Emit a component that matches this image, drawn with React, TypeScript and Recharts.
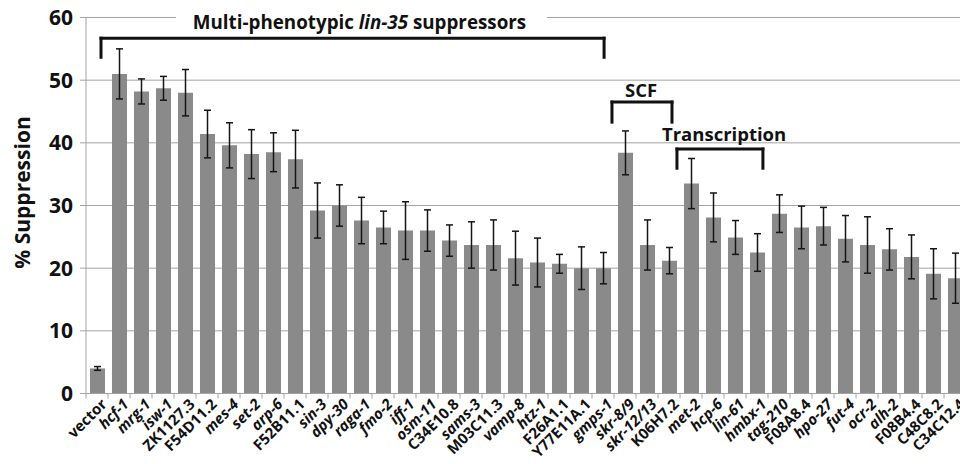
import React from 'react';
import {
  BarChart,
  Bar,
  XAxis,
  YAxis,
  CartesianGrid,
  ErrorBar,
  ReferenceLine,
  ReferenceDot,
} from 'recharts';

const categories = [
  'vector', 'hcf-1', 'mrg-1', 'isw-1', 'ZK1127.3', 'F54D11.2', 'mes-4', 'set-2', 'arp-6', 'F52B11.1',
  'sin-3', 'dpy-30', 'raga-1', 'fmo-2', 'iff-1', 'osm-11', 'C34E10.8', 'sams-3', 'M03C11.3', 'vamp-8',
  'htz-1', 'F26A1.1', 'Y77E11A.1', 'gmps-1', 'skr-8/9', 'skr-12/13', 'K06H7.2', 'met-2', 'hcp-6', 'lin-61',
  'hmbx-1', 'tag-210', 'F08A8.4', 'hpo-27', 'fut-4', 'ocr-2', 'alh-2', 'F08B4.4', 'C48C8.2', 'C34C12.4',
];

const suppression = [
  4.0, 51.0, 48.2, 48.7, 48.0, 41.4, 39.6, 38.2, 38.5, 37.4,
  29.2, 30.0, 27.6, 26.5, 26.0, 26.0, 24.4, 23.7, 23.7, 21.6,
  20.9, 20.7, 20.0, 20.0, 38.4, 23.7, 21.2, 33.5, 28.1, 24.9,
  22.5, 28.7, 26.5, 26.7, 24.7, 23.7, 23.0, 21.8, 19.1, 18.4,
];

const errors = [
  0.3, 4.0, 2.0, 1.9, 3.7, 3.8, 3.6, 3.9, 3.1, 4.6,
  4.4, 3.3, 3.7, 2.6, 4.6, 3.3, 2.5, 3.7, 4.0, 4.3,
  3.9, 1.5, 3.4, 2.5, 3.5, 4.0, 2.1, 4.0, 3.9, 2.7,
  3.0, 3.0, 3.4, 3.0, 3.7, 4.5, 3.3, 3.5, 4.0, 4.0,
];

const yTicks = [0, 10, 20, 30, 40, 50, 60];

// group annotations: x on a 0..39 position axis spanning the plot, y in % units
const groupBrackets = [
  { left: 0.665, right: 22.96, top: 56.7, bottom: 53.65 },
  { left: 23.31, right: 25.97, top: 46.5, bottom: 43.3 },
  { left: 26.19, right: 30.0, top: 39.0, bottom: 35.95 },
];
const groupLabels = [
  { x: 12.12, y: 59.3, size: 18.8, parts: [['Multi-phenotypic ', false], ['lin-35', true], [' suppressors', false]] },
  { x: 24.6, y: 48.6, size: 18.5, parts: [['SCF', false]] },
  { x: 28.28, y: 41.6, size: 18.5, parts: [['Transcription', false]] },
];
const titleGap = { from: 3.99, to: 20.43, y: 60 };

const data = categories.map((name, i) => ({ name, value: suppression[i], err: errors[i] }));

const FONT = "'Open Sans', 'DejaVu Sans', sans-serif";
const GRID = '#a3a3a3';

const isGene = (s: string) => /^[a-z]/.test(s) && s !== 'vector';

function XTick(props: any) {
  const { x, y, payload, width } = props;
  const band = width ? width / categories.length : 22;
  const label = String(payload.value);
  const tx = x + 7;
  const ty = y + 8;
  return (
    <g>
      <line x1={x - band / 2} x2={x - band / 2} y1={y} y2={y + 5} stroke={GRID} strokeWidth={1} />
      <text
        x={tx}
        y={ty}
        transform={`rotate(-45, ${tx}, ${ty})`}
        textAnchor="end"
        dy="0.35em"
        fontFamily={FONT}
        fontSize={15}
        fontWeight={700}
        fontStyle={isGene(label) ? 'italic' : 'normal'}
        fill="#111"
      >
        {label}
      </text>
    </g>
  );
}

function YLabel(props: any) {
  const vb = props.viewBox || { x: 0, y: 0, width: 86, height: 376 };
  const cx = vb.x + 22;
  const cy = vb.y + vb.height / 2 - 13;
  return (
    <text
      x={cx}
      y={cy}
      transform={`rotate(-90, ${cx}, ${cy})`}
      textAnchor="middle"
      dominantBaseline="central"
      fontFamily={FONT}
      fontSize={21}
      fontWeight={700}
      fill="#111"
    >
      % Suppression
    </text>
  );
}

function GroupLabel(props: any) {
  const { viewBox, parts, size } = props;
  const cx = viewBox.x + viewBox.width / 2;
  const cy = viewBox.y + viewBox.height / 2;
  return (
    <text
      x={cx}
      y={cy}
      textAnchor="middle"
      dominantBaseline="central"
      fontFamily={FONT}
      fontSize={size}
      fontWeight={700}
      fill="#111"
    >
      {parts.map((p: any, i: number) => (
        <tspan key={i} fontStyle={p[1] ? 'italic' : 'normal'}>
          {p[0]}
        </tspan>
      ))}
    </text>
  );
}

export default function App() {
  return (
    <div
      style={{
        position: 'absolute',
        left: 0,
        top: 0,
        width: 960,
        height: 464,
        overflow: 'hidden',
        background: '#fff',
      }}
    >
      <BarChart
        width={970}
        height={464}
        data={data}
        margin={{ top: 17.5, right: 4, bottom: 0, left: 0 }}
        barCategoryGap={0}
      >
        <CartesianGrid horizontal vertical={false} stroke={GRID} strokeWidth={1} />
        <XAxis
          dataKey="name"
          interval={0}
          tickLine={false}
          tickSize={0}
          tickMargin={0}
          height={70.5}
          axisLine={{ stroke: GRID, strokeWidth: 1 }}
          tick={<XTick />}
        />
        <XAxis
          xAxisId="pos"
          type="number"
          domain={[0, categories.length - 1]}
          hide
          allowDataOverflow
        />
        <YAxis
          domain={[0, 60]}
          ticks={yTicks}
          width={86}
          interval={0}
          tickSize={6}
          tickMargin={7}
          axisLine={{ stroke: GRID, strokeWidth: 1 }}
          tickLine={{ stroke: GRID, strokeWidth: 1 }}
          tick={{ fontFamily: FONT, fontSize: 21, fontWeight: 700, fill: '#111' }}
          label={<YLabel />}
        />
        <Bar dataKey="value" fill="#8a8a8a" barSize={15} isAnimationActive={false}>
          <ErrorBar dataKey="err" direction="y" width={3.5} stroke="#151515" strokeWidth={1.5} />
        </Bar>
        <ReferenceLine
          xAxisId="pos"
          segment={[{ x: titleGap.from, y: titleGap.y }, { x: titleGap.to, y: titleGap.y }]}
          stroke="#fff"
          strokeWidth={5}
          ifOverflow="visible"
        />
        {groupBrackets.map((b, i) => (
          <ReferenceLine
            key={'l' + i}
            xAxisId="pos"
            segment={[{ x: b.left, y: b.bottom }, { x: b.left, y: b.top }]}
            stroke="#111"
            strokeWidth={3}
            strokeLinecap="square"
            ifOverflow="visible"
          />
        ))}
        {groupBrackets.map((b, i) => (
          <ReferenceLine
            key={'t' + i}
            xAxisId="pos"
            segment={[{ x: b.left, y: b.top }, { x: b.right, y: b.top }]}
            stroke="#111"
            strokeWidth={3}
            strokeLinecap="square"
            ifOverflow="visible"
          />
        ))}
        {groupBrackets.map((b, i) => (
          <ReferenceLine
            key={'r' + i}
            xAxisId="pos"
            segment={[{ x: b.right, y: b.top }, { x: b.right, y: b.bottom }]}
            stroke="#111"
            strokeWidth={3}
            strokeLinecap="square"
            ifOverflow="visible"
          />
        ))}
        {groupLabels.map((g, i) => (
          <ReferenceDot
            key={'g' + i}
            xAxisId="pos"
            x={g.x}
            y={g.y}
            r={0}
            fill="none"
            stroke="none"
            ifOverflow="visible"
            label={<GroupLabel parts={g.parts} size={g.size} />}
          />
        ))}
      </BarChart>
    </div>
  );
}
